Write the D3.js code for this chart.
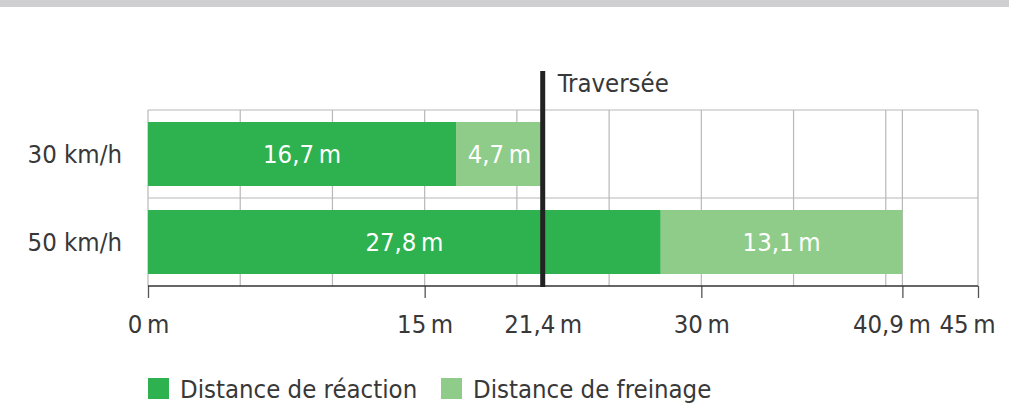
<!DOCTYPE html>
<html>
<head>
<meta charset="utf-8">
<style>
  body { margin: 0; background: #fff; }
  svg { display: block; }
  text { font-family: "DejaVu Sans Condensed", "DejaVu Sans", sans-serif; font-stretch: condensed; }
</style>
</head>
<body>
<div id="chart"></div>
<script src="https://d3js.org/d3.v7.min.js"></script>
<script>
const speeds = ["30 km/h", "50 km/h"];
const reaction = [16.7, 27.8];
const braking = [4.7, 13.1];
const crossing = 21.4;
const axisTicks = [0, 15, 21.4, 30, 40.9, 45];
const gridValues = [0, 5, 10, 15, 20, 25, 30, 35, 40, 40.9, 45];
const legendLabels = ["Distance de réaction", "Distance de freinage"];

const width = 1009, height = 406;
const plotLeft = 148, plotRight = 978, plotTop = 110, plotBottom = 286;
const darkGreen = "#2eb24f", lightGreen = "#8fcc8a", textCol = "#383838";
const fs = 25.5;

const fmt = v => d3.format(",")(v).replace(".", ",") + "\u2009m";

const svg = d3.select("#chart").append("svg")
  .attr("width", width)
  .attr("height", height);

svg.append("rect")
  .attr("x", 0).attr("y", 0)
  .attr("width", width).attr("height", 7)
  .attr("fill", "#cfcfd1");

const x = d3.scaleLinear().domain([0, 45]).range([plotLeft, plotRight]);
const y = d3.scaleBand().domain(speeds).range([plotTop, plotBottom])
  .paddingInner(0.2727).paddingOuter(0.1364);

// grid
svg.append("g").selectAll("line")
  .data(gridValues)
  .join("line")
  .attr("x1", d => x(d)).attr("x2", d => x(d))
  .attr("y1", plotTop).attr("y2", plotBottom)
  .attr("stroke", "#b8b8b8").attr("stroke-width", 1.2);

const hLines = [plotTop, y(speeds[0]) + y.bandwidth() + y.step() * y.paddingInner() / 2];
svg.append("g").selectAll("line")
  .data(hLines)
  .join("line")
  .attr("x1", plotLeft).attr("x2", plotRight)
  .attr("y1", d => d).attr("y2", d => d)
  .attr("stroke", "#b8b8b8").attr("stroke-width", 1.2);

// bars
const rows = speeds.map((s, i) => ({ speed: s, reaction: reaction[i], braking: braking[i] }));

const barG = svg.append("g");
rows.forEach(r => {
  const segs = [
    { x0: 0, x1: r.reaction, v: r.reaction, c: darkGreen },
    { x0: r.reaction, x1: r.reaction + r.braking, v: r.braking, c: lightGreen }
  ];
  barG.selectAll(null)
    .data(segs)
    .join("rect")
    .attr("x", d => x(d.x0))
    .attr("y", y(r.speed))
    .attr("width", d => x(d.x1) - x(d.x0))
    .attr("height", y.bandwidth())
    .attr("fill", d => d.c);
  barG.selectAll(null)
    .data(segs)
    .join("text")
    .attr("x", d => (x(d.x0) + x(d.x1)) / 2)
    .attr("y", y(r.speed) + y.bandwidth() / 2)
    .attr("dy", "0.36em")
    .attr("text-anchor", "middle")
    .attr("fill", "#fff")
    .attr("font-size", fs)
    .text(d => fmt(d.v));
});

// category labels
svg.append("g").selectAll("text")
  .data(speeds)
  .join("text")
  .attr("x", 122)
  .attr("y", d => y(d) + y.bandwidth() / 2)
  .attr("dy", "0.36em")
  .attr("text-anchor", "end")
  .attr("fill", textCol)
  .attr("font-size", fs)
  .text(d => d);

// x axis
const xAxis = d3.axisBottom(x)
  .tickValues(axisTicks)
  .tickSize(12)
  .tickPadding(17)
  .tickFormat(fmt);

const ax = svg.append("g")
  .attr("transform", `translate(0,${plotBottom})`)
  .call(xAxis);
ax.select(".domain").remove();
ax.selectAll(".tick line").attr("stroke", "#555").attr("stroke-width", 1.3)
  .filter(d => d === crossing).remove();
ax.selectAll(".tick text")
  .attr("font-size", fs)
  .attr("fill", textCol)
  .attr("dx", d => d > 40 ? -11 : 0);
ax.attr("font-family", null);
ax.append("line")
  .attr("x1", plotLeft).attr("x2", plotRight)
  .attr("y1", 0).attr("y2", 0)
  .attr("stroke", "#333").attr("stroke-width", 1.5);

// crossing marker
svg.append("line")
  .attr("x1", x(crossing)).attr("x2", x(crossing))
  .attr("y1", 71).attr("y2", plotBottom + 1)
  .attr("stroke", "#222").attr("stroke-width", 5);
svg.append("text")
  .attr("x", x(crossing) + 15)
  .attr("y", 92)
  .attr("fill", textCol)
  .attr("font-size", fs)
  .text("Traversée");

// legend
const legend = svg.append("g").attr("transform", "translate(148,378)");
const items = legend.selectAll("g")
  .data(legendLabels)
  .join("g")
  .attr("transform", (d, i) => `translate(${i * 293},0)`);
items.append("rect")
  .attr("width", 21).attr("height", 21)
  .attr("fill", (d, i) => i === 0 ? darkGreen : lightGreen);
items.append("text")
  .attr("x", 32).attr("y", 20)
  .attr("fill", textCol)
  .attr("font-size", fs)
  .text(d => d);
</script>
</body>
</html>
